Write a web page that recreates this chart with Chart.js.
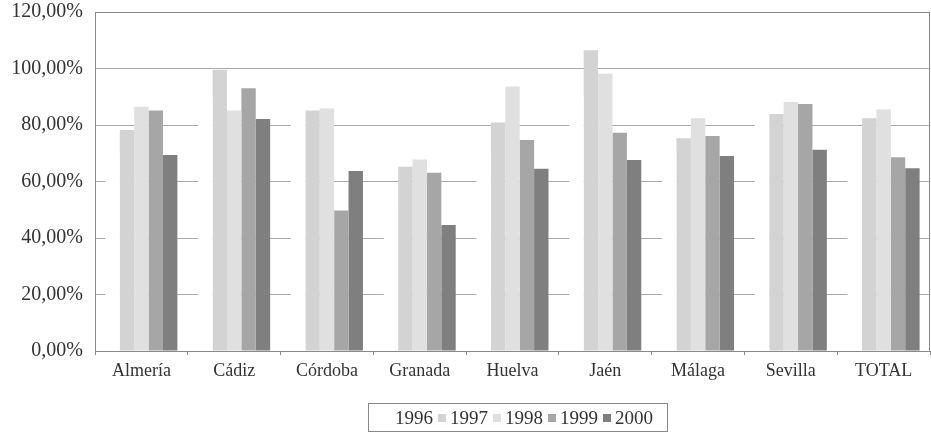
<!DOCTYPE html>
<html>
<head>
<meta charset="utf-8">
<script src="https://cdn.jsdelivr.net/npm/chart.js@4/dist/chart.umd.min.js"></script>
<style>
  body { margin: 0; background: #fff; }
  #wrap { position: relative; width: 931px; height: 433px; }
  #legend {
    position: absolute; left: 368px; top: 403px; height: 29px;
    border: 1px solid #8a8a8a; box-sizing: border-box;
    display: flex; align-items: center; padding: 0 14px 0 14px;
    font-family: "Liberation Serif", serif; font-size: 19px; color: #333;
  }
  #legend .item { display: flex; align-items: center; margin-right: 5px; }
  #legend .item:last-child { margin-right: 0; }
  #legend .sw { width: 8px; height: 8px; margin-right: 4px; }
</style>
</head>
<body>
<div id="wrap">
  <canvas id="chart" width="931" height="433"></canvas>
  <div id="legend"></div>
</div>
<script>
const categories = ["Almería", "Cádiz", "Córdoba", "Granada", "Huelva", "Jaén", "Málaga", "Sevilla", "TOTAL"];
const years = ["1996", "1997", "1998", "1999", "2000"];

// 1996 is drawn white in the original, only visible where it hides the grid
const v1996 = [70, 90, 90, 50, 70, 90, 70, 90, 75];
const v1997 = [78.2, 99.6, 85.1, 65.2, 80.9, 106.5, 75.3, 83.9, 82.4];
const v1998 = [86.5, 85.1, 85.8, 67.8, 93.6, 98.1, 82.4, 88.1, 85.5];
const v1999 = [85.1, 93.0, 49.7, 63.1, 74.7, 77.3, 76.1, 87.4, 68.6];
const v2000 = [69.4, 82.1, 63.7, 44.6, 64.5, 67.6, 69.0, 71.2, 64.7];

const yTicks = [0, 20, 40, 60, 80, 100, 120];

const colors = ["#ffffff", "#d3d3d3", "#e0e0e0", "#a6a6a6", "#7f7f7f"];
const series = [v1996, v1997, v1998, v1999, v2000];

// box round the plot area
const frame = {
    id: "frame",
    afterDatasetsDraw(chart) {
        const a = chart.chartArea, ctx = chart.ctx;
        ctx.save();
        ctx.strokeStyle = "#8a8a8a";
        ctx.lineWidth = 1;
        ctx.strokeRect(Math.round(a.left) + 0.5, Math.round(a.top) + 0.5,
            Math.round(a.right - a.left) - 1, Math.round(a.bottom - a.top));
        ctx.restore();
    }
};

const chart = new Chart(document.getElementById("chart"), {
    type: "bar",
    data: {
        labels: categories,
        datasets: years.map((y, i) => ({
            label: y,
            data: series[i],
            backgroundColor: colors[i],
            borderWidth: 0,
            categoryPercentage: 0.776,
            barPercentage: 1
        }))
    },
    options: {
        responsive: false,
        animation: false,
        layout: { padding: { top: 12, right: 1, bottom: 52, left: 0 } },
        plugins: { legend: { display: false }, tooltip: { enabled: false } },
        scales: {
            x: {
                grid: { drawOnChartArea: false, color: "#8a8a8a", tickLength: 4, offset: true },
                border: { color: "#8a8a8a" },
                ticks: { font: { family: "Liberation Serif", size: 18 }, color: "#333", padding: 5, maxRotation: 0 },
                afterFit(s) { s.height = 30; }
            },
            y: {
                min: 0, max: 120,
                afterBuildTicks(s) { s.ticks = yTicks.map(v => ({ value: v })); },
                grid: { color: "#ababab", drawTicks: false },
                border: { color: "#8a8a8a" },
                ticks: {
                    font: { family: "Liberation Serif", size: 20 }, color: "#333", padding: 12,
                    callback: v => v.toFixed(2).replace(".", ",") + "%"
                },
                afterFit(s) { s.width = 95; s.paddingTop = 0; s.paddingBottom = 0; }
            }
        }
    },
    plugins: [frame]
});

// legend as in the original, a framed row under the axis
const legend = document.getElementById("legend");
chart.data.datasets.forEach(ds => {
    const item = document.createElement("span");
    item.className = "item";
    const sw = document.createElement("span");
    sw.className = "sw";
    sw.style.background = ds.backgroundColor;
    const tx = document.createElement("span");
    tx.textContent = ds.label;
    item.appendChild(sw);
    item.appendChild(tx);
    legend.appendChild(item);
});
</script>
</body>
</html>
